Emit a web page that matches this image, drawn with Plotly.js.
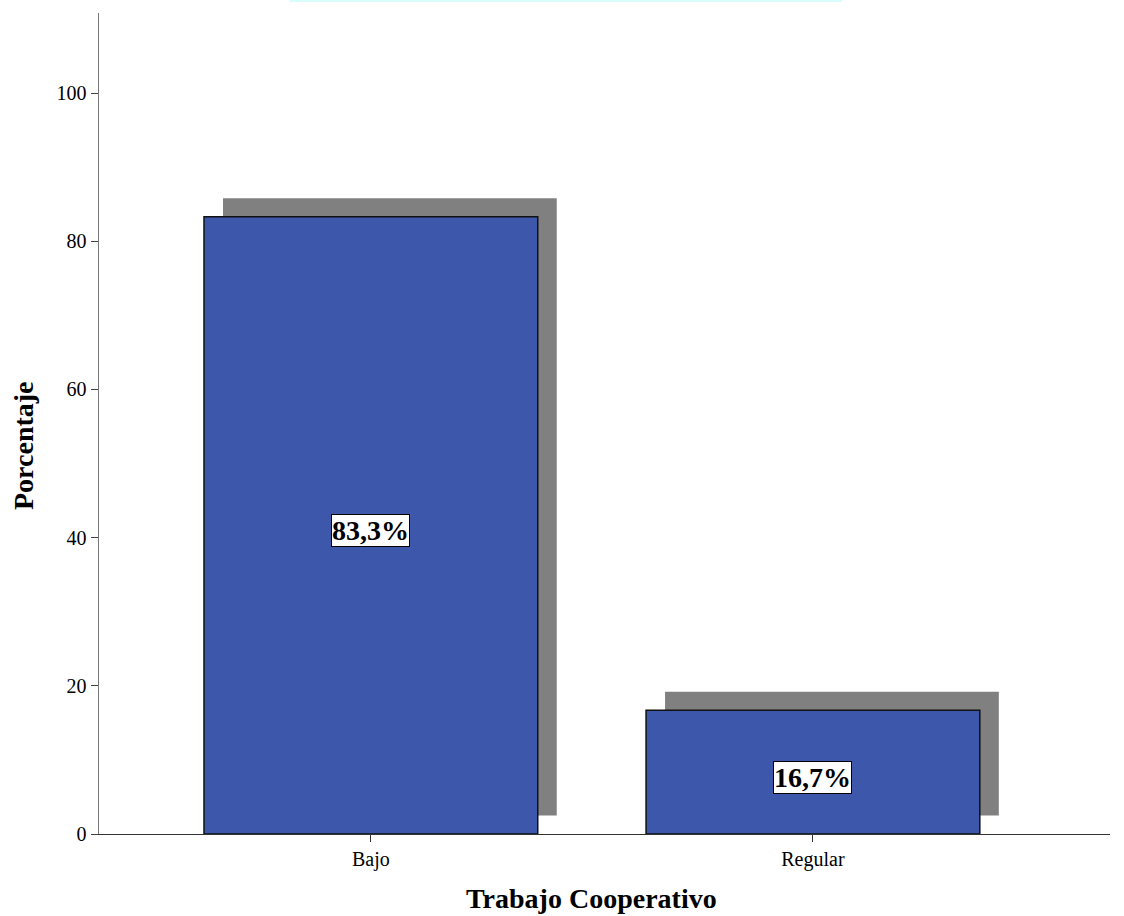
<!DOCTYPE html>
<html><head><meta charset="utf-8">
<script src="https://cdn.plot.ly/plotly-3.0.1.min.js"></script>
<style>html,body{margin:0;padding:0;background:#fff}</style>
</head><body>
<div id="chart" style="width:1124px;height:916px"></div>
<script>
const categories = ["Bajo", "Regular"];
const percentages = [83.3, 16.7];
const labels = ["83,3%", "16,7%"];
const xTitle = "Trabajo Cooperativo";
const yTitle = "Porcentaje";

const barWidth = 0.755;
const shadowDx = 0.043;
const shadowDy = 2.5;
const serif = "Liberation Serif, Times New Roman, serif";

const shadow = {
  type: "bar", x: categories, y: percentages, base: shadowDy,
  width: barWidth, offset: -barWidth / 2 + shadowDx,
  marker: {color: "#808080", line: {width: 0}},
  hoverinfo: "skip", showlegend: false
};
const bars = {
  type: "bar", x: categories, y: percentages,
  width: barWidth,
  marker: {color: "#3d58aa", line: {color: "#111111", width: 1.5}},
  showlegend: false
};

const annotations = categories.map((c, i) => ({
  x: c, y: percentages[i] / 2, xref: "x", yref: "y", text: "<b>" + labels[i] + "</b>",
  showarrow: false, yshift: -5,
  font: {family: serif, size: 28, color: "#000"},
  bgcolor: "#ffffff", bordercolor: "#000000", borderwidth: 1, borderpad: 0
}));
annotations.push({
  xref: "paper", yref: "paper", x: 0.4876, y: -0.079, xanchor: "center", yanchor: "middle",
  text: "<b>" + xTitle + "</b>", showarrow: false,
  font: {family: serif, size: 28, color: "#000"}
});
annotations.push({
  xref: "paper", yref: "paper", x: -0.0752, y: 0.4738, xanchor: "center", yanchor: "middle",
  text: "<b>" + yTitle + "</b>", showarrow: false, textangle: -90,
  font: {family: serif, size: 28, color: "#000"}
});

const layout = {
  width: 1124, height: 916, autosize: false,
  margin: {l: 99, r: 14, t: 13, b: 82},
  paper_bgcolor: "#ffffff", plot_bgcolor: "#ffffff",
  barmode: "overlay", showlegend: false,
  xaxis: {
    type: "category", range: [-0.615, 1.672],
    showgrid: false, zeroline: false, showline: true, linecolor: "#333333", linewidth: 1,
    ticks: "outside", ticklen: 7, tickcolor: "#333333",
    tickfont: {family: serif, size: 20, color: "#000"}
  },
  yaxis: {
    range: [0, 110.8], tickvals: [0, 20, 40, 60, 80, 100],
    showgrid: false, zeroline: false, showline: true, linecolor: "#777777", linewidth: 1.5,
    ticks: "outside", ticklen: 7, tickcolor: "#444444",
    tickfont: {family: serif, size: 20, color: "#000"}
  },
  annotations: annotations,
  shapes: [
    {type: "rect", xref: "paper", yref: "paper", x0: 0.189, x1: 0.735, y0: 1.0135, y1: 1.0165,
     fillcolor: "#d9fdfd", line: {width: 0}, layer: "below"}
  ]
};

Plotly.newPlot("chart", [shadow, bars], layout, {displayModeBar: false, staticPlot: true});
</script>
</body></html>
